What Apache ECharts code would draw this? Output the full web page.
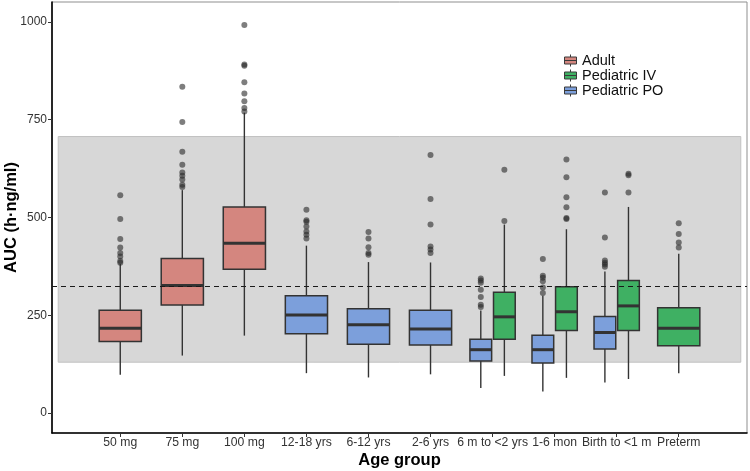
<!DOCTYPE html>
<html>
<head>
<meta charset="utf-8">
<script src="https://cdn.jsdelivr.net/npm/echarts@6/dist/echarts.min.js"></script>
<style>html,body{margin:0;padding:0;background:#fff}#c{width:750px;height:471px}</style>
</head>
<body>
<div id="c"></div>
<script>
// ---- data ----
const categories = ['50 mg','75 mg','100 mg','12-18 yrs','6-12 yrs','2-6 yrs','6 m to <2 yrs','1-6 mon','Birth to <1 m','Preterm'];
const yTicks = [0, 250, 500, 750, 1000];
// [lower whisker, Q1, median, Q3, upper whisker]
const adultBox = [[98,183,217,263,381],[147,276,326,395,570],[198,368,434,527,768],null,null,null,null,null,null,null];
const pedIVBox = [null,null,null,null,null,null,[95,189,246,309,482],[90,211,259,323,470],[87,211,274,339,527],[102,172,217,269,407]];
const pedPOBox = [null,null,null,[102,203,251,300,428],[91,176,226,267,386],[99,174,215,263,385],[64,133,162,189,262],[55,128,162,199,300],[78,164,206,247,362],null];
const adultOut = [[557,496,445,423,409,400,389,384],[834,744,668,635,615,607,597,584,578],[992,891,888,846,817,797,780,771],[],[],[],[],[],[],[]];
const pedIVOut = [[],[],[],[],[],[],[622,491],[648,603,552,526,499,496],[612,608,564],[485,458,436,423]];
const pedPOOut = [[],[],[],[520,493,489,477,464,456,446],[463,446,424,409,405],[660,547,482,426,418,409],[344,339,333,315,297,277,271],[394,351,346,337,321,307],[564,449,390,384,380,374],[]];
const refRange = [130, 707];
const refLine = 325;

// ---- groups ----
const groups = [
  {name:'Adult', color:'#D4867F', box:adultBox, out:adultOut},
  {name:'Pediatric IV', color:'#3FB063', box:pedIVBox, out:pedIVOut},
  {name:'Pediatric PO', color:'#7C9FDB', box:pedPOBox, out:pedPOOut}
];
const dodgeOrder = ['Adult','Pediatric PO','Pediatric IV'];

function placement(groupName, i) {
  const present = dodgeOrder.filter(n => groups.find(g => g.name === n).box[i]);
  const n = present.length;
  if (n <= 1) return {off:0, w:0.68};
  const k = present.indexOf(groupName);
  return {off:(k - (n-1)/2) * 0.38, w:0.35};
}

function renderBox(params, api) {
  const xc = api.value(0);
  const low = api.value(1), q1 = api.value(2), med = api.value(3), q3 = api.value(4), high = api.value(5);
  const unit = api.size([1, 0])[0];
  const hw = api.value(6) * unit / 2;
  const pHigh = api.coord([xc, high]);
  const pQ3 = api.coord([xc, q3]);
  const pMed = api.coord([xc, med]);
  const pQ1 = api.coord([xc, q1]);
  const pLow = api.coord([xc, low]);
  const stroke = '#333333';
  return {
    type:'group',
    children:[
      {type:'line', shape:{x1:pHigh[0], y1:pHigh[1], x2:pQ3[0], y2:pQ3[1]}, style:{stroke, lineWidth:1.4}},
      {type:'line', shape:{x1:pQ1[0], y1:pQ1[1], x2:pLow[0], y2:pLow[1]}, style:{stroke, lineWidth:1.4}},
      {type:'rect', shape:{x:pQ3[0]-hw, y:pQ3[1], width:2*hw, height:pQ1[1]-pQ3[1]}, style:{fill:api.visual('color'), stroke, lineWidth:1.5}},
      {type:'line', shape:{x1:pMed[0]-hw, y1:pMed[1], x2:pMed[0]+hw, y2:pMed[1]}, style:{stroke, lineWidth:3}}
    ]
  };
}

const series = [];
series.push({
  type:'line', name:'band', data:[], z:1, silent:true,
  markArea:{silent:true, itemStyle:{color:'#D7D7D7', borderColor:'#C2C2C2', borderWidth:1},
    data:[[{xAxis:-1, yAxis:refRange[0]},{xAxis:10, yAxis:refRange[1]}]]}
});
groups.forEach(g => {
  const data = [];
  g.box.forEach((b, i) => {
    if (!b) return;
    const p = placement(g.name, i);
    data.push([i + p.off, b[0], b[1], b[2], b[3], b[4], p.w]);
  });
  series.push({type:'custom', name:g.name, itemStyle:{color:g.color}, renderItem:renderBox,
    encode:{x:0, y:[1,2,3,4,5]}, data, z:3});
});
groups.forEach(g => {
  const pts = [];
  g.out.forEach((arr, i) => {
    if (!g.box[i]) return;
    const p = placement(g.name, i);
    arr.forEach(v => pts.push([i + p.off, v]));
  });
  series.push({type:'scatter', name:g.name + ' outliers', data:pts, symbolSize:6,
    itemStyle:{color:'rgba(40,40,40,0.75)'}, z:4, silent:true});
});
series.push({
  type:'line', name:'ref', data:[], z:6, silent:true,
  markLine:{silent:true, symbol:['none','none'], label:{show:false},
    lineStyle:{color:'#1a1a1a', type:[5,4], width:1.1},
    data:[{yAxis:refLine}]}
});

const legendIcon = 'path://M6,0 L6,2.5 M0,2.5 L12,2.5 L12,9.5 L0,9.5 Z M0,6 L12,6 M6,9.5 L6,12';
const font = 'Liberation Sans, Arial, Helvetica, sans-serif';

const option = {
  animation:false,
  textStyle:{fontFamily:font},
  grid:{left:52, right:3, top:2, bottom:38, containLabel:false, outerBoundsMode:'none',
    show:true, borderColor:'#8f8f8f', borderWidth:1, backgroundColor:'transparent'},
  legend:{
    left:559, top:48, orient:'vertical', itemWidth:13, itemHeight:12, itemGap:0, itemTextGap:5,
    data:groups.map(g => ({name:g.name, icon:legendIcon})),
    itemStyle:{borderColor:'#3a3a3a', borderWidth:1},
    textStyle:{fontSize:14.5, color:'#111', lineHeight:14, fontFamily:font}
  },
  xAxis:{
    type:'value', min:-1.1, max:10.1,
    name:'Age group', nameLocation:'middle', nameGap:19, nameMoveOverlap:false,
    nameTextStyle:{fontSize:16.5, fontWeight:'bold', color:'#000', fontFamily:font},
    axisLine:{onZero:false, lineStyle:{color:'#000', width:1.6}},
    axisTick:{show:true, length:4, customValues:categories.map((c,i)=>i), lineStyle:{color:'#333'}},
    axisLabel:{customValues:categories.map((c,i)=>i), formatter:v => categories[Math.round(v)] || '', margin:4, fontSize:12.2, color:'#333'},
    splitLine:{show:false}
  },
  yAxis:{
    type:'value', min:-51, max:1051,
    name:'AUC (h·ng/ml)', nameLocation:'middle', nameGap:32, nameMoveOverlap:false,
    nameTextStyle:{fontSize:16.5, fontWeight:'bold', color:'#000', fontFamily:font},
    axisLine:{show:true, onZero:false, lineStyle:{color:'#000', width:1.6}},
    axisTick:{show:true, length:4, customValues:yTicks, lineStyle:{color:'#333'}},
    axisLabel:{customValues:yTicks, formatter:v => String(v), margin:5, fontSize:12, color:'#333'},
    splitLine:{show:false}
  },
  series
};
const chart = echarts.init(document.getElementById('c'), null, {renderer:'canvas'});
chart.setOption(option);
</script>
</body>
</html>
